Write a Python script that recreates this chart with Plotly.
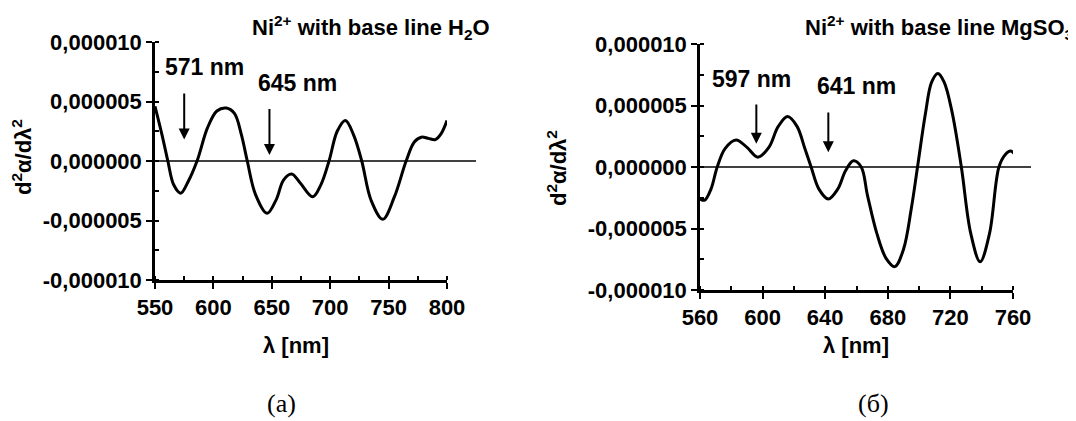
import plotly.graph_objects as go

# ---------------- data ----------------
# (a) Ni2+ with base line H2O
wl_a = [550, 556, 561, 566, 572, 578, 586, 595, 603, 611, 618, 624, 629, 636, 646, 654,
        660, 667, 674, 685, 692, 699, 706, 713, 720, 727, 735, 745, 755, 765, 772, 778,
        784, 790, 795, 800]
d2_a = [4.6, 2.2, 0.0, -2.0, -2.7, -1.8, 0.0, 2.8, 4.2, 4.45, 4.0, 2.2, 0.0, -2.8, -4.4, -3.2,
        -1.6, -1.1, -1.8, -3.0, -2.0, 0.0, 2.5, 3.4, 2.2, 0.0, -3.3, -4.9, -3.0, 0.0, 1.6, 2.0,
        1.9, 1.8, 2.3, 3.4]
# (б) Ni2+ with base line MgSO3
wl_b = [560, 563, 567, 571, 576, 583, 590, 597, 604, 610, 616, 622, 627, 631, 636, 642,
        648, 653, 658, 663, 667, 673, 679, 684.5, 690, 695, 699, 704, 708, 712, 716, 721,
        727, 733, 739, 745, 751, 755, 758.5, 762]
d2_b = [-2.6, -2.7, -1.8, 0.0, 1.5, 2.2, 1.6, 0.8, 1.6, 3.3, 4.1, 3.3, 1.5, 0.0, -1.8, -2.6,
        -1.8, -0.3, 0.5, 0.0, -2.3, -5.4, -7.45, -8.1, -6.7, -3.4, 0.0, 4.3, 6.9, 7.6, 6.9, 4.5,
        0.0, -5.4, -7.7, -5.4, 0.0, 1.0, 1.3, 0.9]
scale = 1e-6

# baseline extents (nm)
base_a = [550, 825]
base_b = [560, 771.5]

# axes
xrange_a = [550, 800]
xrange_b = [560, 760]
xticks_a = [550, 600, 650, 700, 750, 800]
xticks_b = [560, 600, 640, 680, 720, 760]
yticks = [-1e-5, -5e-6, 0, 5e-6, 1e-5]
yticktext = ["-0,000010", "-0,000005", "0,000000", "0,000005", "0,000010"]

# peak markers: (label, arrow x, tip y, tail y, text x, text y) in 1e-6 units
peaks_a = [("571 nm", 575, 1.8, 5.8, 592, 7.9), ("645 nm", 648, 0.5, 4.5, 671.6, 6.55)]
peaks_b = [("597 nm", 596, 1.9, 5.2, 593, 7.15), ("641 nm", 642, 1.2, 4.55, 660, 6.6)]

titles = ["Ni<sup>2+</sup> with base line H<sub>2</sub>O",
          "Ni<sup>2+</sup> with base line MgSO<sub>3</sub>"]
panel_labels = ["(a)", "(б)"]
ylabel = "d<sup>2</sup>α/dλ<sup>2</sup>"
xlabel = "λ [nm]"

# ---------------- figure ----------------
OFF = 8                      # page body margin
W, H = 1076 - OFF, 421 - OFF
SANS = "Liberation Sans, Arial, sans-serif"
SERIF = "Liberation Serif, Times New Roman, serif"

def px_x(p):
    return (p - OFF) / W

def px_y(p):
    return 1 - (p - OFF) / H

fig = go.Figure()

fig.add_trace(go.Scatter(x=wl_a, y=[v * scale for v in d2_a], mode="lines",
                         line=dict(color="black", width=3, shape="spline"),
                         xaxis="x", yaxis="y", showlegend=False))
fig.add_trace(go.Scatter(x=base_a, y=[0, 0], mode="lines",
                         line=dict(color="black", width=1.5),
                         xaxis="x3", yaxis="y", showlegend=False))
fig.add_trace(go.Scatter(x=wl_b, y=[v * scale for v in d2_b], mode="lines",
                         line=dict(color="black", width=3, shape="spline"),
                         xaxis="x2", yaxis="y2", showlegend=False))
fig.add_trace(go.Scatter(x=base_b, y=[0, 0], mode="lines",
                         line=dict(color="black", width=1.5),
                         xaxis="x4", yaxis="y2", showlegend=False))

tickfont_x = dict(family=SANS, size=22, color="black", weight="bold")
tickfont_y = dict(family=SANS, size=22, color="black", weight="bold")

def xaxis_cfg(dom, rng, ticks, anchor):
    return dict(domain=dom, range=rng, anchor=anchor, tickvals=ticks, automargin=False,
                showline=True, linewidth=2.5, linecolor="black", mirror=False,
                ticks="outside", ticklen=6, tickwidth=2, tickcolor="black",
                minor=dict(ticks="inside", ticklen=4, tickwidth=1.5, tickcolor="black",
                           dtick=(ticks[1] - ticks[0]) / 2, showgrid=False),
                showgrid=False, zeroline=False, tickfont=tickfont_x)

def yaxis_cfg(dom, anchor):
    return dict(domain=dom, range=[-1e-5, 1e-5], anchor=anchor, automargin=False,
                tickvals=yticks, ticktext=yticktext,
                showline=True, linewidth=2.5, linecolor="black",
                ticks="outside", ticklen=6, tickwidth=2, tickcolor="black",
                minor=dict(ticks="inside", ticklen=4, tickwidth=1.5, tickcolor="black",
                           dtick=2.5e-6, showgrid=False),
                showgrid=False, zeroline=False, tickfont=tickfont_y)

dom_xa = [px_x(155), px_x(447)]
dom_ya = [px_y(280), px_y(42)]
dom_xb = [px_x(700), px_x(1013)]
dom_yb = [px_y(290), px_y(44)]

fig.update_layout(
    width=W, height=H,
    margin=dict(l=0, r=0, t=0, b=0, autoexpand=False),
    paper_bgcolor="white", plot_bgcolor="rgba(0,0,0,0)",
    xaxis=xaxis_cfg(dom_xa, xrange_a, xticks_a, "y"),
    yaxis=yaxis_cfg(dom_ya, "x"),
    xaxis2=xaxis_cfg(dom_xb, xrange_b, xticks_b, "y2"),
    yaxis2=yaxis_cfg(dom_yb, "x2"),
    xaxis3=dict(domain=[px_x(155), px_x(476)], range=base_a, anchor="y", visible=False,
                automargin=False),
    xaxis4=dict(domain=[px_x(700), px_x(1031)], range=base_b, anchor="y2", visible=False,
                automargin=False),
)

anns = []
for peaks, xr, yr in [(peaks_a, "x", "y"), (peaks_b, "x2", "y2")]:
    for label, ax_, tip, tail, tx, ty in peaks:
        anns.append(dict(x=ax_, y=tip * scale, ax=ax_, ay=tail * scale, xref=xr, yref=yr,
                         axref=xr, ayref=yr, text="", showarrow=True, arrowhead=2,
                         arrowsize=1.1, arrowwidth=2, arrowcolor="black"))
        anns.append(dict(x=tx, y=ty * scale, xref=xr, yref=yr, text=label, showarrow=False,
                         xanchor="center", yanchor="middle",
                         font=dict(family=SANS, size=23, color="black", weight="bold")))

bold = dict(family=SANS, size=22, color="black", weight="bold")

def paper_text(x, y, text, font, xanchor="center", angle=0):
    anns.append(dict(x=px_x(x), y=px_y(y), xref="paper", yref="paper", text=text,
                     xanchor=xanchor, yanchor="middle", textangle=angle,
                     showarrow=False, font=font))

# titles
paper_text(371, 28, titles[0], bold)
paper_text(1075, 28, titles[1], bold, xanchor="right")
# y labels
paper_text(22, 157, ylabel, bold, angle=-90)
paper_text(557, 168, ylabel, bold, angle=-90)
# x labels
paper_text(296, 345, xlabel, bold)
paper_text(856, 345, xlabel, bold)
# panel labels
serif = dict(family=SERIF, size=26, color="black")
paper_text(281, 403, panel_labels[0], serif)
paper_text(873, 403, panel_labels[1], serif)

fig.update_layout(annotations=anns)
fig.write_html("out.html")
